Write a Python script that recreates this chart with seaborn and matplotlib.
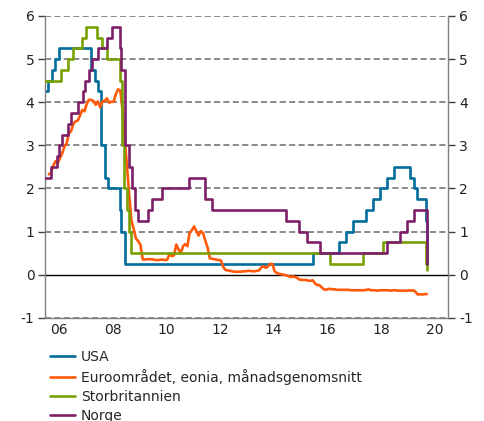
import pandas as pd
import matplotlib
matplotlib.use("Agg")
import matplotlib.pyplot as plt
import seaborn as sns

# styrräntor, ändringsdatum och nivå (%)
usa_datum = ['2006-01-01', '2006-01-31', '2006-03-28', '2006-05-10', '2006-06-29',
             '2007-09-18', '2007-10-31', '2007-12-11', '2008-01-22', '2008-01-30',
             '2008-03-18', '2008-04-30', '2008-10-08', '2008-10-29', '2008-12-16',
             '2015-12-16', '2016-12-14', '2017-03-15', '2017-06-14', '2017-12-13',
             '2018-03-21', '2018-06-13', '2018-09-26', '2018-12-19', '2019-07-31',
             '2019-09-18', '2019-10-30', '2020-03-03', '2020-03-15', '2020-03-25']
usa_ranta = [4.25, 4.5, 4.75, 5.0, 5.25,
             4.75, 4.5, 4.25, 3.5, 3.0,
             2.25, 2.0, 1.5, 1.0, 0.25,
             0.5, 0.75, 1.0, 1.25, 1.5,
             1.75, 2.0, 2.25, 2.5, 2.25,
             2.0, 1.75, 1.25, 0.25, 0.25]

uk_datum = ['2006-01-01', '2006-08-03', '2006-11-09', '2007-01-11', '2007-05-10',
            '2007-07-05', '2007-12-06', '2008-02-07', '2008-04-10', '2008-10-08',
            '2008-11-06', '2008-12-04', '2009-01-08', '2009-02-05', '2009-03-05',
            '2016-08-04', '2017-11-02', '2018-08-02', '2020-03-11', '2020-03-19',
            '2020-03-25']
uk_ranta = [4.5, 4.75, 5.0, 5.25, 5.5,
            5.75, 5.5, 5.25, 5.0, 4.5,
            3.0, 2.0, 1.5, 1.0, 0.5,
            0.25, 0.5, 0.75, 0.25, 0.1,
            0.1]

norge_datum = ['2006-01-01', '2006-03-16', '2006-05-31', '2006-06-29', '2006-08-16',
               '2006-11-01', '2006-12-13', '2007-03-15', '2007-05-30', '2007-06-27',
               '2007-08-15', '2007-09-26', '2007-12-12', '2008-04-23', '2008-06-25',
               '2008-10-15', '2008-10-29', '2008-12-17', '2009-02-04', '2009-03-25',
               '2009-05-06', '2009-06-17', '2009-10-28', '2009-12-16', '2010-05-05',
               '2011-05-12', '2011-12-14', '2012-03-14', '2014-12-11', '2015-06-18',
               '2015-09-24', '2016-03-17', '2018-09-20', '2019-03-21', '2019-06-20',
               '2019-09-19', '2020-03-13', '2020-03-20', '2020-03-25']
norge_ranta = [2.25, 2.5, 2.75, 3.0, 3.25,
               3.5, 3.75, 4.0, 4.25, 4.5,
               4.75, 5.0, 5.25, 5.5, 5.75,
               5.25, 4.75, 3.0, 2.5, 2.0,
               1.5, 1.25, 1.5, 1.75, 2.0,
               2.25, 1.75, 1.5, 1.25, 1.0,
               0.75, 0.5, 0.75, 1.0, 1.25,
               1.5, 1.0, 0.25, 0.25]

# eonia, månadsgenomsnitt jan 2006 - feb 2020
eonia_start = '2006-01-15'
eonia = [2.33, 2.35, 2.52, 2.63, 2.58, 2.70, 2.81, 2.97, 3.04, 3.28, 3.33, 3.50,
         3.56, 3.57, 3.69, 3.82, 3.79, 3.96, 4.06, 4.05, 4.03, 3.94, 4.02, 3.88,
         4.02, 4.03, 4.09, 3.99, 4.01, 4.01, 4.19, 4.30, 4.27, 3.82, 3.15, 2.49,
         1.81, 1.26, 1.06, 0.84, 0.78, 0.70, 0.36, 0.35, 0.36, 0.36, 0.36, 0.35,
         0.34, 0.34, 0.35, 0.35, 0.34, 0.35, 0.48, 0.43, 0.45, 0.70, 0.59, 0.50,
         0.66, 0.71, 0.66, 0.97, 1.03, 1.12, 1.01, 0.91, 1.01, 0.96, 0.79, 0.63,
         0.38, 0.37, 0.36, 0.35, 0.34, 0.33, 0.18, 0.11, 0.10, 0.09, 0.08, 0.07,
         0.07, 0.07, 0.07, 0.08, 0.08, 0.09, 0.09, 0.08, 0.08, 0.09, 0.10, 0.17,
         0.20, 0.16, 0.19, 0.25, 0.25, 0.08, 0.04, 0.02, 0.01, 0.00, -0.01, -0.03,
         -0.05, -0.04, -0.05, -0.07, -0.11, -0.12, -0.12, -0.12, -0.14, -0.14, -0.13, -0.20,
         -0.24, -0.24, -0.29, -0.34, -0.35, -0.33, -0.33, -0.34, -0.34, -0.35, -0.35, -0.35,
         -0.35, -0.35, -0.35, -0.36, -0.36, -0.36, -0.36, -0.36, -0.36, -0.36, -0.35, -0.34,
         -0.36, -0.36, -0.36, -0.37, -0.36, -0.36, -0.36, -0.36, -0.36, -0.37, -0.36, -0.36,
         -0.37, -0.37, -0.37, -0.37, -0.37, -0.36, -0.37, -0.36, -0.40, -0.46, -0.45, -0.46,
         -0.45, -0.45]

etiketter = ['USA', 'Euroområdet, eonia, månadsgenomsnitt', 'Storbritannien', 'Norge']
farger = ['#006D9C', '#FF5A0A', '#77A000', '#7D1F69']


def ar_decimal(datum):
    d = pd.to_datetime(pd.Series(datum))
    dagar = d.dt.is_leap_year.map({True: 366, False: 365})
    return (d.dt.year + (d.dt.dayofyear - 1) / dagar).values


def gor_serie(datum, varden):
    return pd.DataFrame({'x': ar_decimal(datum), 'y': varden})


eonia_datum = pd.date_range(eonia_start, periods=len(eonia), freq='MS') + pd.Timedelta(days=14)
serier = [gor_serie(usa_datum, usa_ranta),
          gor_serie(eonia_datum, eonia),
          gor_serie(uk_datum, uk_ranta),
          gor_serie(norge_datum, norge_ranta)]

sns.set_style('white')
plt.rcParams['font.family'] = ['DejaVu Sans']
plt.rcParams['axes.unicode_minus'] = False

fig = plt.figure(figsize=(4.84, 4.21), dpi=100)
ax = fig.add_axes([0.094, 0.245, 0.832, 0.717])

for y in [-1, 1, 2, 3, 4, 5, 6]:
    ax.axhline(y, color='#808080', lw=1.3, ls=(0, (3.4, 1.8)), zorder=1)
ax.axhline(0, color='black', lw=1.0, zorder=1.5)

for i, df in enumerate(serier):
    stil = 'default' if i == 1 else 'steps-post'
    sns.lineplot(data=df, x='x', y='y', ax=ax, color=farger[i], lw=1.9,
                 drawstyle=stil, label=etiketter[i], legend=False, zorder=2 + i)

ax.set_xlim(2006, 2021)
ax.set_ylim(-1, 6)
ax.set_xlabel('')
ax.set_ylabel('')

ax.set_xticks(range(2006, 2022))
ax.set_xticklabels([])
ax.set_xticks([a + 0.5 for a in range(2006, 2021, 2)], minor=True)
ax.set_xticklabels(['%02d' % (a % 100) for a in range(2006, 2021, 2)], minor=True)
ax.tick_params(axis='x', which='major', length=5, color='#404040', width=1, direction='out')
ax.tick_params(axis='x', which='minor', length=0, labelsize=10, pad=4, labelcolor='#222222')

ax.set_yticks(range(-1, 7))
ax.tick_params(axis='y', which='major', length=5, color='#404040', width=1, direction='out',
               labelsize=10, labelcolor='#222222', left=True, right=True,
               labelleft=True, labelright=True, pad=3)

for s in ['left', 'right', 'bottom']:
    ax.spines[s].set_color('#808080')
    ax.spines[s].set_linewidth(1)
ax.spines['top'].set_visible(False)

handles, labels = ax.get_legend_handles_labels()
fig.legend(handles, labels, loc='upper left', bbox_to_anchor=(0.103, 0.168),
           frameon=False, fontsize=10, handlelength=1.8, handletextpad=0.45,
           labelspacing=0.35, borderpad=0, borderaxespad=0)

fig.savefig('out.png', dpi=100)
